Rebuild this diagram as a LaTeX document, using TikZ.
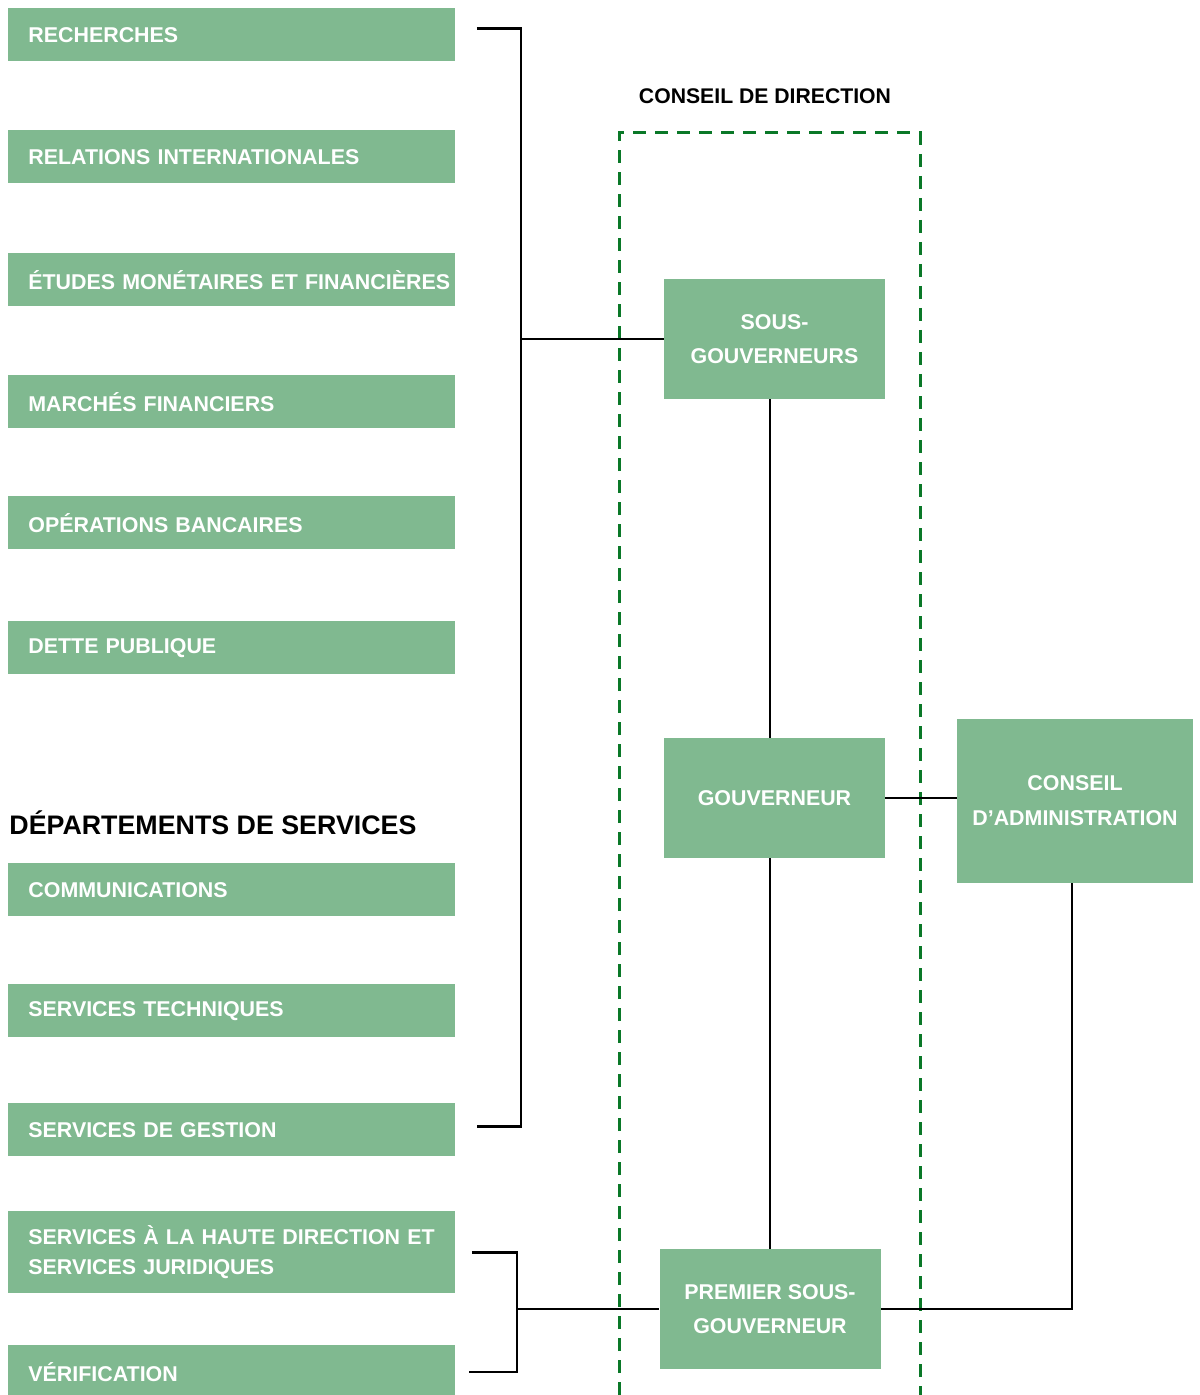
\documentclass[tikz,border=0pt]{standalone}
\usepackage{fontspec}
\setmainfont{Liberation Sans}
\definecolor{boxgreen}{RGB}{128,185,144}
\definecolor{dashgreen}{RGB}{10,120,40}
\tikzset{
  dept/.style={fill=boxgreen, text=white, font=\bfseries\fontsize{10.7}{15}\selectfont,
    minimum height=26.5pt, text width=203.5pt, inner xsep=10pt, inner ysep=0pt, align=left, anchor=north west},
  orgbox/.style={fill=boxgreen, text=white, font=\bfseries\fontsize{10.7}{17}\selectfont,
    minimum width=110.5pt, minimum height=60pt, inner sep=0pt, align=center},
  link/.style={draw=black, line width=1.4pt},
}
\begin{document}
\begin{tikzpicture}[x=0.5pt,y=0.5pt,yscale=-1]
\useasboundingbox (0,0) rectangle (1199,1395);

%Departements
\node[dept] (rech) at (8,8) {RECHERCHES};
\node[dept] (relint) at (8,130) {RELATIONS INTERNATIONALES};
\node[dept] (etud) at (8,253) {\mbox{ÉTUDES MONÉTAIRES ET FINANCIÈRES}};
\node[dept] (march) at (8,375) {MARCHÉS FINANCIERS};
\node[dept] (oper) at (8,496) {OPÉRATIONS BANCAIRES};
\node[dept] (dette) at (8,621) {DETTE PUBLIQUE};

%Departements de services
\node[anchor=west, inner sep=0pt, font=\bfseries\fontsize{13.4}{15}\selectfont] (servtitle) at (9,823) {DÉPARTEMENTS DE SERVICES};
\node[dept] (comm) at (8,863) {COMMUNICATIONS};
\node[dept] (tech) at (8,984) {SERVICES TECHNIQUES};
\node[dept] (gest) at (8,1103) {SERVICES DE GESTION};
\node[dept, minimum height=41pt] (juri) at (8,1211) {SERVICES À LA HAUTE DIRECTION ET\\SERVICES JURIDIQUES};
\node[dept] (verif) at (8,1345) {VÉRIFICATION};

%Conseil de direction
\node[font=\bfseries\fontsize{10.6}{12}\selectfont, inner sep=0pt] (cdtitle) at (765,96) {CONSEIL DE DIRECTION};
\draw[dashgreen, line width=1.5pt, dash pattern=on 6.5pt off 4.5pt] (619,1395) -- (619,133) -- (920,133) -- (920,1395);

\node[orgbox] (sous) at (774.5,339) {SOUS-\\GOUVERNEURS};
\node[orgbox] (gouv) at (774.5,798) {GOUVERNEUR};
\node[orgbox] (prem) at (770,1309) {PREMIER SOUS-\\GOUVERNEUR};
\node[orgbox, minimum width=118pt, minimum height=82pt, font=\bfseries\fontsize{10.7}{17.5}\selectfont] (ca) at (1075,801) {CONSEIL\\D’ADMINISTRATION};

%Connecteurs
\coordinate (spine) at (521,339);
\coordinate (spinetwo) at (517,1309);
\draw[link] ([xshift=10.5pt,yshift=-3.25pt]rech.east) -| (spine) |- ([xshift=10.5pt,yshift=-1.75pt]gest.east);
\draw[link] (spine) -- (sous.west);
\draw[link] ([xshift=8pt]juri.east) -| (spinetwo) |- ([xshift=6.5pt]verif.east);
\draw[link] (spinetwo) -- (prem.west);
\draw[link] (sous.south -| prem.north) -- (gouv.north -| prem.north);
\draw[link] (gouv.south -| prem.north) -- (prem.north);
\draw[link] (gouv.east) -- (gouv.east -| ca.west);
\draw[link] ([xshift=-1.5pt]ca.south) |- (prem.east);

\end{tikzpicture}
\end{document}
